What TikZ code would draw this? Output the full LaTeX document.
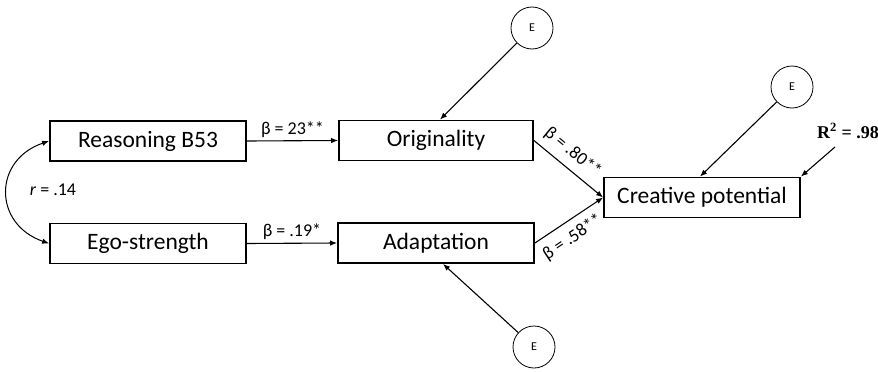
\documentclass[tikz,border=0pt]{standalone}
\usepackage{fontspec}
\setmainfont{Carlito}
\newfontfamily\rfont{Liberation Serif}
\usetikzlibrary{arrows.meta}
\begin{document}
\begin{tikzpicture}[x=1pt,y=-1pt,
  varbox/.style={draw,line width=1.8pt,minimum width=196pt,minimum height=40pt,inner sep=0pt,font=\fontsize{23.5}{27}\selectfont},
  errc/.style={draw,circle,line width=0.8pt,minimum size=42pt,inner sep=0pt,font=\fontsize{12}{14}\selectfont},
  arr/.style={line width=1.1pt,-{Latex[length=7pt,width=5.5pt]}},
  lab/.style={font=\fontsize{18}{20}\selectfont,inner sep=2pt}]
\useasboundingbox (0,0) rectangle (878,372);
\node[varbox] (reas) at (148,141) {Reasoning B53};
\node[varbox] (ego) at (148,243.5) {Ego-strength};
\node[varbox,minimum width=194pt] (orig) at (436,140.5) {Originality};
\node[varbox] (adapt) at (436,243) {Adaptation};
\node[varbox] (cp) at (702,197.5) {Creative potential};
\node[errc] (e1) at (532,28) {E};
\node[errc] (e2) at (792,87) {E};
\node[errc] (e3) at (534,347) {E};
\coordinate (r2s) at (835,147);

\draw[arr] (reas.east) -- node[lab,above,yshift=1pt] {β = 23**} (orig.west);
\draw[arr] (ego.east) -- node[lab,above,yshift=1pt] {β = .19*} (adapt.west);
\draw[arr] (orig.east) -- node[lab,sloped,above=5pt,pos=0.42] {β = .80**} (cp.west);
\draw[arr] (adapt.east) -- node[lab,sloped,below=6pt,pos=0.42] {β = .58**} (cp.west);
\draw[arr] (e1) -- ([xshift=4pt]orig.north);
\draw[arr] (e2) -- ([xshift=-2pt]cp.north);
\draw[arr] (e3) -- ([xshift=7pt]adapt.south);
\draw[arr] (r2s) -- (cp.north east);
\draw[line width=1pt,{Latex[length=7pt,width=5.5pt]}-{Latex[length=7pt,width=5.5pt]}]
  (reas.west) .. controls (-7,160) and (-7,224) .. (ego.west);
\node[lab] (rlab) at (53,190) {\textit{r} = .14};
\node[anchor=west,inner sep=0pt,font=\rfont\bfseries\fontsize{18}{20}\selectfont] (r2) at (817,131) {R\textsuperscript{2} = .98};
\end{tikzpicture}
\end{document}
